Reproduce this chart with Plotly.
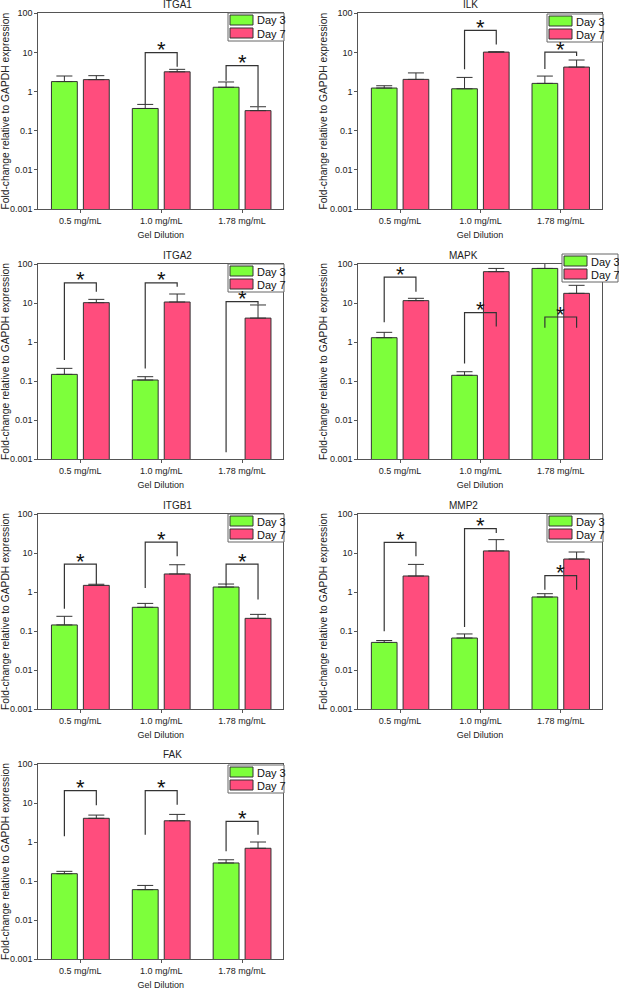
import math
import plotly.graph_objects as go

# ---------------- data ----------------
categories = ["0.5 mg/mL", "1.0 mg/mL", "1.78 mg/mL"]
genes = ["ITGA1", "ILK", "ITGA2", "MAPK", "ITGB1", "MMP2", "FAK"]
series_names = ["Day 3", "Day 7"]
y_tick_values = [0.001, 0.01, 0.1, 1, 10, 100]
y_tick_labels = ["0.001", "0.01", "0.1", "1", "10", "100"]
x_title = "Gel Dilution"
y_title = "Fold-change relative to GAPDH expression"

# mean values and top of the error bar, per concentration
ITGA1_day3 = [1.8, 0.37, 1.29]
ITGA1_day3_top = [2.5, 0.47, 1.76]
ITGA1_day7 = [2.02, 3.2, 0.326]
ITGA1_day7_top = [2.55, 3.7, 0.41]

ILK_day3 = [1.23, 1.18, 1.62]
ILK_day3_top = [1.41, 2.3, 2.49]
ILK_day7 = [2.05, 10.2, 4.23]
ILK_day7_top = [3.0, 10.4, 6.4]

ITGA2_day3 = [0.148, 0.106, None]
ITGA2_day3_top = [0.211, 0.129, None]
ITGA2_day7 = [10.2, 10.6, 4.1]
ITGA2_day7_top = [12.4, 17.0, 8.9]

MAPK_day3 = [1.29, 0.14, 77.0]
MAPK_day3_top = [1.77, 0.173, 104.0]
MAPK_day7 = [11.5, 63.6, 17.7]
MAPK_day7_top = [13.2, 77.0, 28.4]

ITGB1_day3 = [0.143, 0.405, 1.34]
ITGB1_day3_top = [0.238, 0.51, 1.6]
ITGB1_day7 = [1.48, 2.9, 0.211]
ITGB1_day7_top = [1.58, 5.0, 0.267]

MMP2_day3 = [0.051, 0.066, 0.745]
MMP2_day3_top = [0.057, 0.084, 0.905]
MMP2_day7 = [2.57, 11.3, 7.0]
MMP2_day7_top = [5.1, 22.0, 10.6]

FAK_day3 = [0.154, 0.06, 0.29]
FAK_day3_top = [0.177, 0.077, 0.35]
FAK_day7 = [4.05, 3.5, 0.69]
FAK_day7_top = [4.9, 5.1, 1.0]

# significance brackets: (category index, bracket level, left leg end, right leg end)
ITGA1_sig = [(1, 9.9, 0.47, 4.3), (2, 4.6, 1.9, 0.43)]
ILK_sig = [(1, 36.7, 3.7, 16.0), (2, 10.2, 3.8, 8.1)]
ITGA2_sig = [(0, 33.0, 0.345, 19.5), (1, 33.0, 0.21, 26.0), (2, 10.8, 0.0015, 9.2)]
MAPK_sig = [(0, 46.0, 3.2, 19.5), (1, 5.65, 0.28, 2.5), (2, 4.37, 2.33, 2.33)]
ITGB1_sig = [(0, 5.2, 0.37, 1.57), (1, 19.1, 1.27, 8.2), (2, 5.2, 1.54, 0.64)]
MMP2_sig = [(0, 18.8, 0.098, 8.2), (1, 42.0, 0.127, 32.6), (2, 2.62, 1.15, 1.15)]
FAK_sig = [(0, 20.7, 1.4, 8.7), (1, 20.7, 1.54, 9.06), (2, 3.39, 0.58, 1.54)]

gene_data = {
    "ITGA1": (ITGA1_day3, ITGA1_day3_top, ITGA1_day7, ITGA1_day7_top, ITGA1_sig),
    "ILK": (ILK_day3, ILK_day3_top, ILK_day7, ILK_day7_top, ILK_sig),
    "ITGA2": (ITGA2_day3, ITGA2_day3_top, ITGA2_day7, ITGA2_day7_top, ITGA2_sig),
    "MAPK": (MAPK_day3, MAPK_day3_top, MAPK_day7, MAPK_day7_top, MAPK_sig),
    "ITGB1": (ITGB1_day3, ITGB1_day3_top, ITGB1_day7, ITGB1_day7_top, ITGB1_sig),
    "MMP2": (MMP2_day3, MMP2_day3_top, MMP2_day7, MMP2_day7_top, MMP2_sig),
    "FAK": (FAK_day3, FAK_day3_top, FAK_day7, FAK_day7_top, FAK_sig),
}

# ---------------- layout ----------------
W, H = 619, 992
FONT = "Liberation Sans, Arial, sans-serif"
GREEN = "#7DFF3B"
PINK = "#FF4D7D"
EDGE = "#333333"
AXIS = "#555555"
BARGAP = 0.21
BARGROUPGAP = 0.19

col_px = [(38.3, 283.3), (358.3, 601.7)]
row_px = [(13.3, 209.0), (264.0, 459.0), (514.0, 709.0), (764.0, 959.0)]
# top-left corner of each panel's legend box (pixels)
legend_px = [(228, 13), (547, 14), (228, 264), (562, 254), (228, 514), (547, 514), (228, 765)]
LEG_W, LEG_H = 56, 28


def py(p):
    return 1 - p / H


def px(p):
    return p / W


fig = go.Figure()
layout = dict(
    width=W, height=H,
    margin=dict(l=0, r=0, t=0, b=0, autoexpand=False),
    paper_bgcolor="white", plot_bgcolor="white",
    barmode="group", bargap=BARGAP, bargroupgap=BARGROUPGAP,
    font=dict(family=FONT, color="#222222"),
    showlegend=False,
)
annotations = []
shapes = []
d = (1 - BARGAP) / 4
colors = [GREEN, PINK]

for k, gene in enumerate(genes):
    r, c = divmod(k, 2)
    n = k + 1
    xa = "x" if n == 1 else f"x{n}"
    ya = "y" if n == 1 else f"y{n}"
    d3, d3t, d7, d7t, sig = gene_data[gene]

    for name, vals, tops, color in [(series_names[0], d3, d3t, GREEN), (series_names[1], d7, d7t, PINK)]:
        err = [None if v is None else t - v for v, t in zip(vals, tops)]
        fig.add_trace(go.Bar(
            x=[0, 1, 2], y=vals, name=name,
            xaxis=xa, yaxis=ya,
            marker=dict(color=color, line=dict(color=EDGE, width=1)),
            error_y=dict(type="data", symmetric=False, array=err,
                         arrayminus=[0, 0, 0], color=EDGE, thickness=1, width=8),
        ))

    for (ci, level, left_end, right_end) in sig:
        fig.add_trace(go.Scatter(
            x=[ci - d, ci - d, ci + d, ci + d],
            y=[left_end, level, level, right_end],
            mode="lines", line=dict(color=EDGE, width=1.2),
            showlegend=False, hoverinfo="skip", xaxis=xa, yaxis=ya,
        ))
        annotations.append(dict(
            x=ci, y=math.log10(level), xref=xa, yref=ya, text="*",
            showarrow=False, yanchor="middle", yshift=3,
            font=dict(size=22, family=FONT, color="#111111"),
        ))

    x0, x1 = col_px[c]
    t0, b0 = row_px[r]
    axkey = "xaxis" if n == 1 else f"xaxis{n}"
    aykey = "yaxis" if n == 1 else f"yaxis{n}"
    layout[axkey] = dict(
        domain=[px(x0), px(x1)], anchor=ya, range=[-0.52, 2.51],
        tickvals=[0, 1, 2], ticktext=categories, ticks="outside", ticklen=3,
        tickcolor=AXIS, showline=True, mirror=True, linecolor=AXIS, linewidth=1,
        showgrid=False, zeroline=False, tickfont=dict(size=9),
        title=dict(text=x_title, font=dict(size=9), standoff=6),
    )
    layout[aykey] = dict(
        domain=[py(b0), py(t0)], anchor=xa, type="log", range=[-3, 2],
        tickvals=y_tick_values, ticktext=y_tick_labels, ticks="outside", ticklen=3,
        tickcolor=AXIS, showline=True, mirror=True, linecolor=AXIS, linewidth=1,
        showgrid=False, zeroline=False, tickfont=dict(size=9),
        title=dict(text=y_title, font=dict(size=10.3), standoff=0),
    )

    # legend box drawn per panel
    lx, ly = legend_px[k]
    shapes.append(dict(type="rect", xref="paper", yref="paper",
                       x0=px(lx), x1=px(lx + LEG_W), y0=py(ly + LEG_H), y1=py(ly),
                       fillcolor="white", line=dict(color="#666666", width=1), layer="above"))
    for j, sname in enumerate(series_names):
        sy0 = ly + 2 + j * 13
        shapes.append(dict(type="rect", xref="paper", yref="paper",
                           x0=px(lx + 2), x1=px(lx + 25), y0=py(sy0 + 10), y1=py(sy0),
                           fillcolor=colors[j], line=dict(color=EDGE, width=1), layer="above"))
        annotations.append(dict(
            x=px(lx + 26.5), y=py(sy0 + 5.5), xref="paper", yref="paper",
            text=sname, showarrow=False, xanchor="left", yanchor="middle",
            font=dict(size=11, family=FONT, color="#111111"),
        ))

    annotations.append(dict(
        x=(px(x0) + px(x1)) / 2, y=py(t0) + 1.5 / H, xref="paper", yref="paper",
        text=gene, showarrow=False, yanchor="bottom",
        font=dict(size=10, family=FONT, color="#222222"),
    ))

layout["annotations"] = annotations
layout["shapes"] = shapes
fig.update_layout(**layout)
fig.write_html("out.html", config={"displayModeBar": False},
               post_script="document.body.style.margin='0';")
